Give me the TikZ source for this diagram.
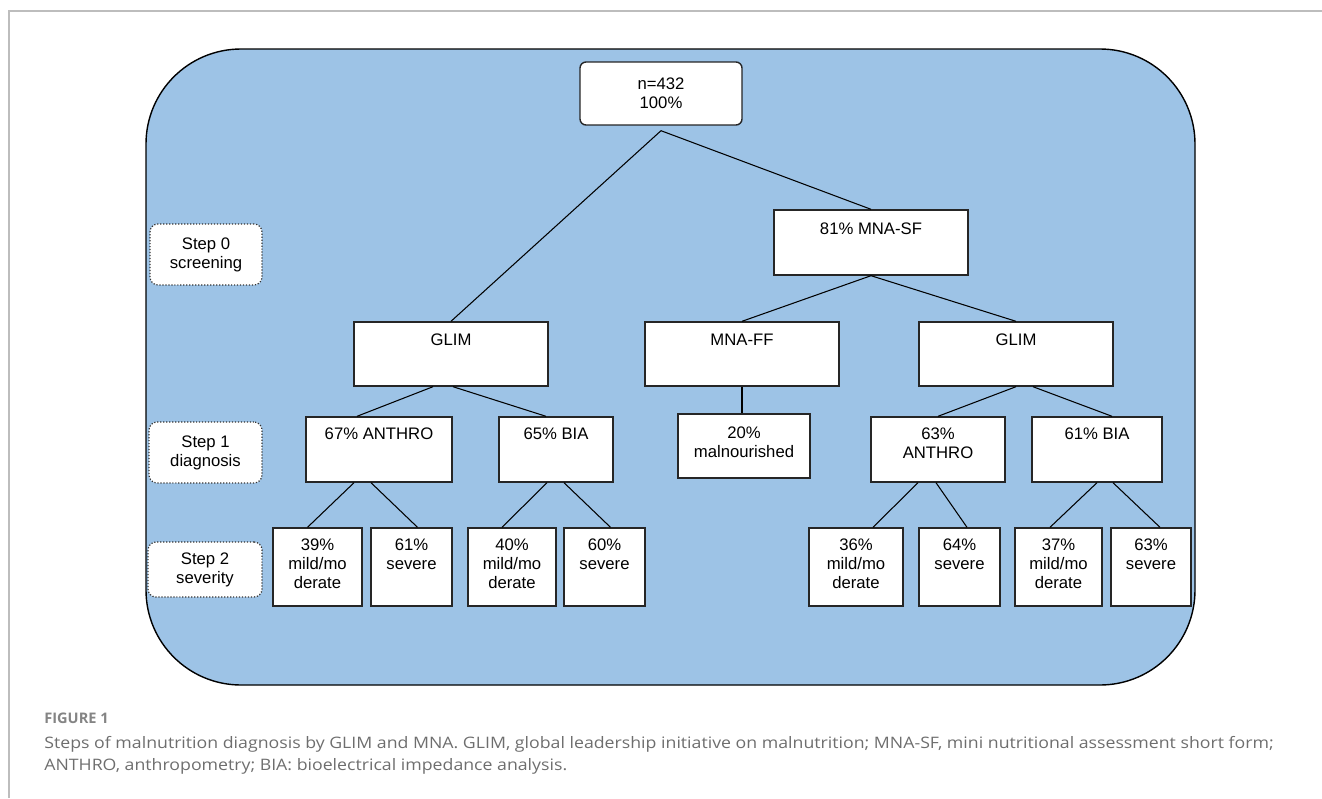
\documentclass[tikz,border=0pt]{standalone}
\usepackage{fontspec}
\setmainfont{Liberation Sans}
\newfontfamily\capfont[FakeStretch=1.12]{Open Sans}
\newfontfamily\capbold{Open Sans}
\usepackage{tikz}
\definecolor{panelblue}{HTML}{9DC3E6}
\definecolor{capgray}{HTML}{6E6E6E}
\definecolor{framegray}{HTML}{BDBDBD}

\begin{document}
\begin{tikzpicture}[x=0.02cm,y=-0.02cm]
            \tikzstyle{databox}=[draw=black!85, line width=0.8pt, fill=white, inner sep=0pt, align=center, font=\fontsize{9.5}{10.8}\selectfont]
            \tikzstyle{stepbox}=[draw=black!80, densely dotted, line width=0.7pt, fill=white, rounded corners=0.16cm, inner sep=0pt, align=center, font=\fontsize{9.5}{10.8}\selectfont]
            \tikzstyle{toptext}=[anchor=north, inner sep=0pt, yshift=-0.22cm, align=center, font=\fontsize{9.5}{10.8}\selectfont]
            \tikzstyle{link}=[line width=0.6pt]
            \useasboundingbox (0,0) rectangle (1322,798);
            \draw[framegray, line width=0.6pt] (9,798) -- (9,11) -- (1322,11);
            \draw[fill=panelblue, line width=0.8pt, rounded corners=1.9cm] (146,49) rectangle (1195,685);
            \node[databox, rounded corners=0.12cm, minimum width=3.24cm, minimum height=1.26cm] (total) at (661,93.5) {n=432\\100\%};
            \node[stepbox, minimum width=2.24cm, minimum height=1.22cm] (step0) at (206,254.5) {Step 0\\screening};
            \node[stepbox, minimum width=2.26cm, minimum height=1.22cm] (step1) at (205.5,452.5) {Step 1\\diagnosis};
            \node[stepbox, minimum width=2.28cm, minimum height=1.1cm] (step2) at (205,569.5) {Step 2\\severity};
            \node[databox, minimum width=3.88cm, minimum height=1.3cm, label={[toptext, yshift=-0.04cm]north:81\% MNA-SF}] (mnasf) at (871,242.5) {};
            \node[databox, minimum width=3.88cm, minimum height=1.28cm, label={[toptext, yshift=-0.02cm]north:GLIM}] (glimL) at (451,354) {};
            \node[databox, minimum width=3.88cm, minimum height=1.28cm, label={[toptext, yshift=-0.02cm]north:MNA-FF}] (mnaff) at (742,354) {};
            \node[databox, minimum width=3.88cm, minimum height=1.28cm, label={[toptext, yshift=-0.02cm]north:GLIM}] (glimR) at (1016,354) {};
            \node[databox, minimum width=2.92cm, minimum height=1.3cm, label={[toptext]north:67\% ANTHRO}] (anthroL) at (379,449.5) {};
            \node[databox, minimum width=2.28cm, minimum height=1.3cm, label={[toptext]north:65\% BIA}] (biaL) at (556,449.5) {};
            \node[databox, minimum width=2.64cm, minimum height=1.28cm, label={[toptext, yshift=-0.04cm]north:20\%\\malnourished}] (malnour) at (744,446) {};
            \node[databox, minimum width=2.68cm, minimum height=1.3cm, label={[toptext]north:63\%\\ANTHRO}] (anthroR) at (938,449.5) {};
            \node[databox, minimum width=2.6cm, minimum height=1.3cm, label={[toptext]north:61\% BIA}] (biaR) at (1097,449.5) {};
            \node[databox, minimum width=1.78cm, minimum height=1.56cm, label={[toptext]north:39\%\\mild/mo\\derate}] (mildA) at (317.5,567) {};
            \node[databox, minimum width=1.62cm, minimum height=1.56cm, label={[toptext]north:61\%\\severe}] (sevA) at (411.5,567) {};
            \node[databox, minimum width=1.76cm, minimum height=1.56cm, label={[toptext]north:40\%\\mild/mo\\derate}] (mildB) at (512,567) {};
            \node[databox, minimum width=1.62cm, minimum height=1.56cm, label={[toptext]north:60\%\\severe}] (sevB) at (604.5,567) {};
            \node[databox, minimum width=1.88cm, minimum height=1.56cm, label={[toptext]north:36\%\\mild/mo\\derate}] (mildC) at (856,567) {};
            \node[databox, minimum width=1.62cm, minimum height=1.56cm, label={[toptext]north:64\%\\severe}] (sevC) at (959.5,567) {};
            \node[databox, minimum width=1.74cm, minimum height=1.56cm, label={[toptext]north:37\%\\mild/mo\\derate}] (mildD) at (1058.5,567) {};
            \node[databox, minimum width=1.6cm, minimum height=1.56cm, label={[toptext]north:63\%\\severe}] (sevD) at (1151,567) {};
            \draw[link] ([yshift=-0.1cm]total.south) -- (glimL.north);
            \draw[link] ([yshift=-0.1cm]total.south) -- (mnasf.north);
            \draw[link] (mnasf.south) -- (mnaff.north);
            \draw[link] (mnasf.south) -- (glimR.north);
            \draw[link] ([xshift=-0.36cm]glimL.south) -- ([xshift=-0.44cm]anthroL.north);
            \draw[link] ([xshift=0.04cm]glimL.south) -- ([xshift=-0.2cm]biaL.north);
            \draw[link] (mnaff.south) -- (mnaff.south |- malnour.north);
            \draw[link] (glimR.south) -- (anthroR.north);
            \draw[link] ([xshift=0.34cm]glimR.south) -- ([xshift=0.3cm]biaR.north);
            \draw[link] ([xshift=-0.5cm]anthroL.south) -- ([xshift=-0.2cm]mildA.north);
            \draw[link] ([xshift=-0.16cm]anthroL.south) -- ([xshift=0.12cm]sevA.north);
            \draw[link] ([xshift=-0.18cm]biaL.south) -- ([xshift=-0.2cm]mildB.north);
            \draw[link] ([xshift=0.16cm]biaL.south) -- ([xshift=0.12cm]sevB.north);
            \draw[link] ([xshift=-0.4cm]anthroR.south) -- ([xshift=0.34cm]mildC.north);
            \draw[link] ([xshift=-0.04cm]anthroR.south) -- ([xshift=0.15cm]sevC.north);
            \draw[link] (biaR.south) -- ([xshift=-0.17cm]mildD.north);
            \draw[link] ([xshift=0.32cm]biaR.south) -- ([xshift=0.18cm]sevD.north);
            \node[anchor=north west, inner sep=0pt, text=capgray!85, font=\capbold\bfseries\fontsize{8.3}{10}\selectfont] (figlabel) at (44,713) {FIGURE 1};
            \node[anchor=north west, inner sep=0pt, align=left, text=capgray, font=\capfont\fontsize{9}{12.5}\selectfont] (figcaption) at (44,736) {Steps of malnutrition diagnosis by GLIM and MNA. GLIM, global leadership initiative on malnutrition; MNA-SF, mini nutritional assessment short form;\\ANTHRO, anthropometry; BIA: bioelectrical impedance analysis.};
        \end{tikzpicture}
\end{document}
